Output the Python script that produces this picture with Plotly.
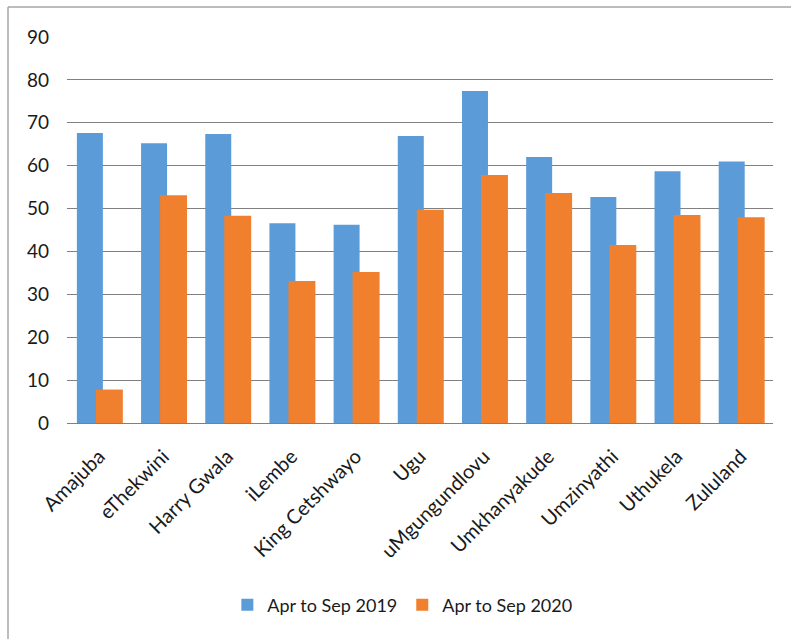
import plotly.graph_objects as go

districts = ["Amajuba", "eThekwini", "Harry Gwala", "iLembe", "King Cetshwayo", "Ugu",
             "uMgungundlovu", "Umkhanyakude", "Umzinyathi", "Uthukela", "Zululand"]
apr_sep_2019 = [67.6, 65.2, 67.4, 46.6, 46.2, 66.9, 77.4, 62.0, 52.7, 58.7, 61.0]
apr_sep_2020 = [7.8, 53.1, 48.3, 33.1, 35.2, 49.7, 57.8, 53.6, 41.5, 48.5, 48.0]
y_ticks = [0, 10, 20, 30, 40, 50, 60, 70, 80, 90]

FONT = "Lato, 'Open Sans', sans-serif"
TEXT = "#1a1a1a"
W, H = 791, 639
L, R, T, B = 67, 18, 37, 216
pw, ph = W - L - R, H - T - B

fig = go.Figure()
fig.add_trace(go.Bar(
    x=districts, y=apr_sep_2019, name="Apr to Sep 2019",
    marker=dict(color="#5b9bd8", line=dict(width=0)),
    width=0.405, offset=-0.346,
))
fig.add_trace(go.Bar(
    x=districts, y=apr_sep_2020, name="Apr to Sep 2020",
    marker=dict(color="#f07f2e", line=dict(width=0)),
    width=0.42, offset=-0.05,
))

# chart-area frame (left and top edges)
def px_x(p):
    return (p - L) / pw

def px_y(p):
    return (H - B - p) / ph

frame = dict(color="#a6a6a6", width=1.5)
fig.add_shape(type="line", xref="paper", yref="paper",
              x0=px_x(8), x1=px_x(W + 2), y0=px_y(7), y1=px_y(7), line=frame)
fig.add_shape(type="line", xref="paper", yref="paper",
              x0=px_x(8), x1=px_x(8), y0=px_y(7), y1=px_y(H + 2), line=frame)

fig.update_layout(
    width=W, height=H,
    margin=dict(l=L, r=R, t=T, b=B),
    paper_bgcolor="white", plot_bgcolor="white",
    barmode="overlay",
    font=dict(family=FONT, size=18, color=TEXT),
    showlegend=True,
    legend=dict(orientation="h", x=0.475, xanchor="center", y=px_y(605), yanchor="middle",
                font=dict(size=18, color=TEXT), itemwidth=30, traceorder="normal"),
)
fig.update_yaxes(
    range=[0, 90], tickvals=y_ticks, ticktext=[str(v) for v in y_ticks],
    showgrid=True, gridcolor="#808080", gridwidth=1,
    zeroline=False, showline=False, ticks="", ticklabelstandoff=17,
    tickfont=dict(size=19, family=FONT, color=TEXT),
)
fig.update_xaxes(
    tickangle=-45, showgrid=False, zeroline=False,
    showline=True, linecolor="#808080", linewidth=1,
    ticks="", ticklabelstandoff=13,
    tickfont=dict(size=20, family=FONT, color=TEXT),
)

fig.write_html("out.html")
